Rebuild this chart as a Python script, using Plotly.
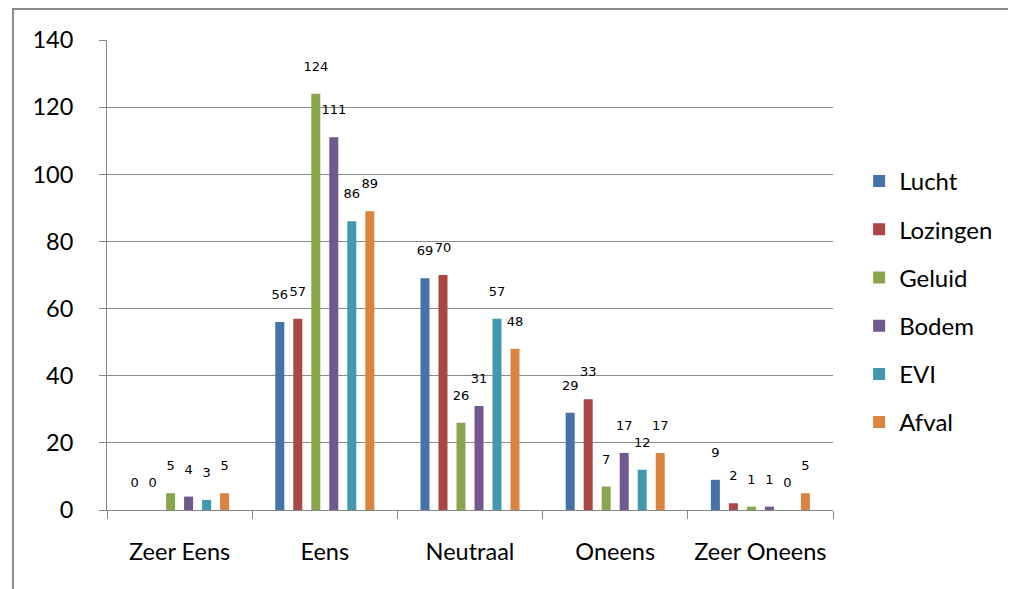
import plotly.graph_objects as go

categories = ["Zeer Eens", "Eens", "Neutraal", "Oneens", "Zeer Oneens"]
series_names = ["Lucht", "Lozingen", "Geluid", "Bodem", "EVI", "Afval"]
lucht = [0, 56, 69, 29, 9]
lozingen = [0, 57, 70, 33, 2]
geluid = [5, 124, 26, 7, 1]
bodem = [4, 111, 31, 17, 1]
evi = [3, 86, 57, 12, 0]
afval = [5, 89, 48, 17, 5]
y_ticks = [0, 20, 40, 60, 80, 100, 120, 140]

colors = ["#4572A7", "#AA4643", "#89A54E", "#71588F", "#4198AF", "#DB843D"]
series_values = [lucht, lozingen, geluid, bodem, evi, afval]

fig = go.Figure()
for name, vals, col in zip(series_names, series_values, colors):
    fig.add_trace(go.Bar(
        x=categories, y=vals, name=name, legendgroup=name,
        marker=dict(color=col, line=dict(width=0)),
        text=[str(v) for v in vals],
        texttemplate="%{text}<br> ",
        textposition="outside",
        constraintext="none",
        textfont=dict(family="DejaVu Sans", size=13, color="#000000"),
        cliponaxis=False,
    ))

fig.update_layout(
    width=1008, height=581,
    margin=dict(l=99, r=183, t=32, b=79),
    paper_bgcolor="white", plot_bgcolor="white",
    barmode="group", bargap=0.256, bargroupgap=0.5,
    font=dict(family="Lato", size=23, color="#000000"),
    showlegend=True,
    legend=dict(x=1.036, xanchor="left", y=0.4426, yanchor="middle",
                font=dict(family="Lato", size=24, color="#000000"),
                tracegroupgap=14, bgcolor="rgba(0,0,0,0)"),
)
fig.update_xaxes(
    showline=True, linecolor="#888888", linewidth=1,
    ticks="outside", tickson="boundaries", ticklen=8, tickcolor="#888888",
    showgrid=False, ticklabelstandoff=21,
    tickfont=dict(family="Lato", size=23.5),
)
fig.update_yaxes(
    range=[0, 140], tickvals=y_ticks,
    showline=True, linecolor="#888888", linewidth=1,
    ticks="outside", ticklen=7, tickcolor="#888888",
    showgrid=True, gridcolor="#8c8c8c", gridwidth=1,
    zeroline=False, ticklabelstandoff=21,
    tickfont=dict(family="Lato", size=23.5),
)
fig.add_shape(type="rect", xref="paper", yref="paper",
              x0=-0.1295, x1=1.26, y0=-0.2, y1=1.066,
              line=dict(color="#8a8a8a", width=2), layer="below")

fig.write_html("out.html")
